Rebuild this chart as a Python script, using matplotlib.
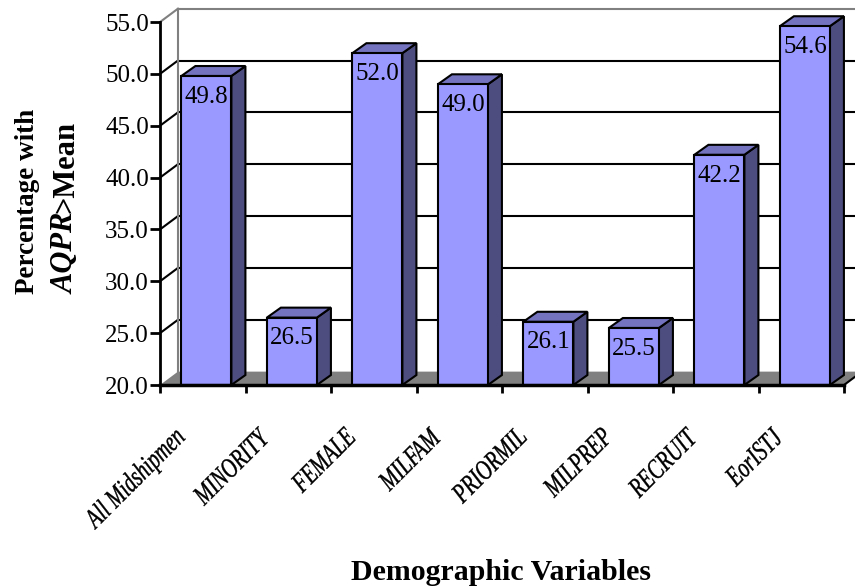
import matplotlib
matplotlib.use('Agg')
import matplotlib.pyplot as plt
from matplotlib.patches import Polygon, PathPatch
from matplotlib.textpath import TextPath
from matplotlib.font_manager import FontProperties
from matplotlib.transforms import Affine2D

plt.rcParams['font.family'] = ['Liberation Serif', 'DejaVu Serif']

categories = ['All Midshipmen', 'MINORITY', 'FEMALE', 'MILFAM',
              'PRIORMIL', 'MILPREP', 'RECRUIT', 'EorISTJ']
values = [49.8, 26.5, 52.0, 49.0, 26.1, 25.5, 42.2, 54.6]
yticks = [20, 25, 30, 35, 40, 45, 50, 55]

front_col = '#9999FF'
side_col = '#4D4D80'
top_col = '#7373BF'
floor_col = '#808080'

# fake 3d: offsets for the back wall and for the bar depth (data units)
wall_dx, wall_dy = 0.21, 1.29
bar_dx, bar_dy = 0.164, 0.96
bar_left, bar_w = 0.25, 0.585
ymin, ymax = 20, 55
n = len(categories)

fig = plt.figure(figsize=(8.55, 5.87), dpi=100)
ax = fig.add_axes([160 / 855, 202 / 587, 695 / 855, 385 / 587])
ax.set_xlim(0, 695 / 85.5)
ax.set_ylim(ymin, ymin + 385 / 10.37)

# back wall grid and side wall diagonals
for v in yticks[1:-1]:
    ax.plot([wall_dx, n + wall_dx + 1], [v + wall_dy] * 2, color='black', lw=1.5, zorder=1, clip_on=False)
    ax.plot([0, wall_dx], [v, v + wall_dy], color='black', lw=1.5, zorder=1, clip_on=False)
ax.plot([wall_dx, n + wall_dx + 1], [ymax + wall_dy] * 2, color='#808080', lw=1.5, zorder=1, clip_on=False)
ax.plot([0, wall_dx], [ymax, ymax + wall_dy], color='#808080', lw=1.5, zorder=1, clip_on=False)
ax.plot([wall_dx, wall_dx], [ymin + wall_dy, ymax + wall_dy], color='#808080', lw=1.5, zorder=1, clip_on=False)

# floor
floor = Polygon([(0, ymin), (n, ymin), (n + wall_dx, ymin + wall_dy), (wall_dx, ymin + wall_dy)],
                closed=True, facecolor=floor_col, edgecolor='none', zorder=1.5, clip_on=False)
ax.add_patch(floor)
ax.plot([n, n + wall_dx], [ymin, ymin + wall_dy], color='black', lw=1.5, zorder=1.6, clip_on=False)

# bars: front face, side and top
lefts = [i + bar_left for i in range(n)]
ax.bar(lefts, [v - ymin for v in values], bottom=ymin, width=bar_w, align='edge',
       color=front_col, edgecolor='black', linewidth=1.5, zorder=3)
for xl, v in zip(lefts, values):
    xr = xl + bar_w
    side = Polygon([(xr, ymin), (xr + bar_dx, ymin + bar_dy), (xr + bar_dx, v + bar_dy), (xr, v)],
                   closed=True, facecolor=side_col, edgecolor='black', lw=1.5, zorder=2.5)
    top = Polygon([(xl, v), (xr, v), (xr + bar_dx, v + bar_dy), (xl + bar_dx, v + bar_dy)],
                  closed=True, facecolor=top_col, edgecolor='black', lw=1.5, zorder=2.5)
    ax.add_patch(side)
    ax.add_patch(top)
    ax.annotate(f'{v:.1f}', xy=(xl + bar_w / 2, v), xytext=(0, -7), textcoords='offset points',
                ha='center', va='top', fontsize=18, zorder=4)

# axes lines and ticks
for s in ['top', 'right']:
    ax.spines[s].set_visible(False)
ax.spines['left'].set_bounds(ymin, ymax)
ax.spines['left'].set_linewidth(2)
ax.spines['bottom'].set_bounds(0, n)
ax.spines['bottom'].set_linewidth(2.5)
ax.spines['bottom'].set_zorder(5)
ax.set_yticks(yticks)
ax.set_yticklabels([f'{t:.1f}' for t in yticks], fontsize=18)
ax.set_xticks(range(n + 1))
ax.set_xticklabels([])
ax.tick_params(axis='y', direction='out', length=7, width=2, pad=1)
ax.tick_params(axis='x', direction='out', length=6, width=2)

# category names: condensed italic, rotated 45 deg, right end under each bar
fig.canvas.draw()
lab_prop = FontProperties(family='Liberation Serif', style='italic')
H = 587
for i, name in enumerate(categories):
    tp = TextPath((0, 0), name, size=28, prop=lab_prop)
    x_end = tp.get_extents().x1
    cx, _ = ax.transData.transform((i + 0.5, ymin))
    tr = (Affine2D().translate(-x_end, 0).scale(0.72, 1.0).rotate_deg(45)
          .translate(cx - 17, H - 439))
    fig.patches.append(PathPatch(tp, transform=tr, facecolor='black', edgecolor='black',
                                 linewidth=0.3, figure=fig))

# axis titles
fig.text(28 / 855, 1 - 201 / 587, 'Percentage with', rotation=90, ha='center', va='center',
         fontsize=19.5, fontweight='bold')
t1 = fig.text(66 / 855, 1 - 294 / 587, 'AQPR', rotation=90, ha='center', va='bottom',
              fontsize=22, fontweight='bold', style='italic')
fig.texts.append(plt.Annotation('>Mean', xy=(0.5, 1.0), xycoords=t1, ha='center', va='bottom',
                                rotation=90, fontsize=22, fontweight='bold'))
fig.texts[-1].set_figure(fig)
fig.text(501 / 855, 1 - 573 / 587, 'Demographic Variables', ha='center', va='center',
         fontsize=21.5, fontweight='bold')

fig.savefig('out.png', dpi=100)
